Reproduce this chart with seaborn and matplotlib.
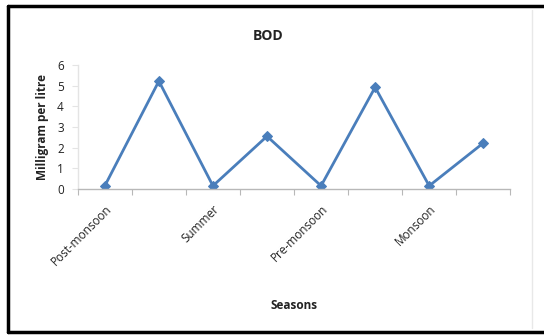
import matplotlib
matplotlib.use("Agg")
import matplotlib.pyplot as plt
import matplotlib.lines as mlines
import numpy as np
import pandas as pd
import seaborn as sns

# BOD readings across the sampling rounds
samples = [0, 1, 2, 3, 4, 5, 6, 7]
bod = [0.15, 5.22, 0.15, 2.55, 0.15, 4.92, 0.15, 2.22]
season_labels = ["Post-monsoon", "Summer", "Pre-monsoon", "Monsoon"]
label_positions = [0, 2, 4, 6]
y_ticks = [0, 1, 2, 3, 4, 5, 6]

df = pd.DataFrame({"sample": samples, "bod": bod})

sns.set_style("white")
plt.rcParams["font.family"] = ["Open Sans", "DejaVu Sans"]

fig = plt.figure(figsize=(5.44, 3.35), dpi=100)
ax = fig.add_axes([0.143, 0.436, 0.795, 0.370])

sns.lineplot(data=df, x="sample", y="bod", ax=ax, color="#4a7ebb",
             linewidth=2.0, marker="D", markersize=5,
             markeredgecolor="#4a7ebb", markerfacecolor="#4a7ebb")

ax.set_xlim(-0.5, 7.5)
ax.set_ylim(0, 6)

# category boundary ticks on x, labels on every other category
ax.set_xticks(np.arange(-0.5, 8.0, 1.0))
ax.set_xticklabels([])
ax.set_xticks(label_positions, minor=True)
ax.set_xticklabels(season_labels, minor=True, rotation=45, ha="right",
                   rotation_mode="anchor", fontsize=8.5, color="#222222")
ax.tick_params(axis="x", which="minor", length=0, pad=10)
ax.tick_params(axis="x", which="major", length=4, color="#b8b8b8",
               direction="out", bottom=True)

ax.set_yticks(y_ticks)
ax.set_yticklabels([str(v) for v in y_ticks], fontsize=8.5, color="#222222")
ax.tick_params(axis="y", length=4, color="#e4e4e4", direction="out",
               left=True, pad=6)

for side in ["top", "right"]:
    ax.spines[side].set_visible(False)
ax.spines["left"].set_color("#e4e4e4")
ax.spines["left"].set_linewidth(1.0)
ax.spines["bottom"].set_color("#b8b8b8")
ax.spines["bottom"].set_linewidth(1.0)

ax.set_xlabel("")
ax.set_ylabel("Milligram per litre", fontsize=8.5, fontweight="bold",
              color="#222222", labelpad=6)

fig.text(0.493, 0.893, "BOD", ha="center", va="center", fontsize=10,
         fontweight="bold", color="#222222")
fig.text(0.54, 0.088, "Seasons", ha="center", va="center", fontsize=8.5,
         fontweight="bold", color="#222222")

# outer chart frame (left, top and bottom edges)
x0, x1, y0, y1 = 0.015, 1.0, 0.008, 0.982
for xs, ys in [([x0, x0], [y0, y1]), ([x0, x1], [y1, y1]), ([x0, x1], [y0, y0])]:
    fig.add_artist(mlines.Line2D(xs, ys, transform=fig.transFigure,
                                 color="black", linewidth=2.5))
# faint inner border on the right
fig.add_artist(mlines.Line2D([0.978, 0.978], [0.02, 0.97],
                             transform=fig.transFigure,
                             color="#e8e8e8", linewidth=1.0))

fig.savefig("out.png", dpi=100, facecolor="white")
